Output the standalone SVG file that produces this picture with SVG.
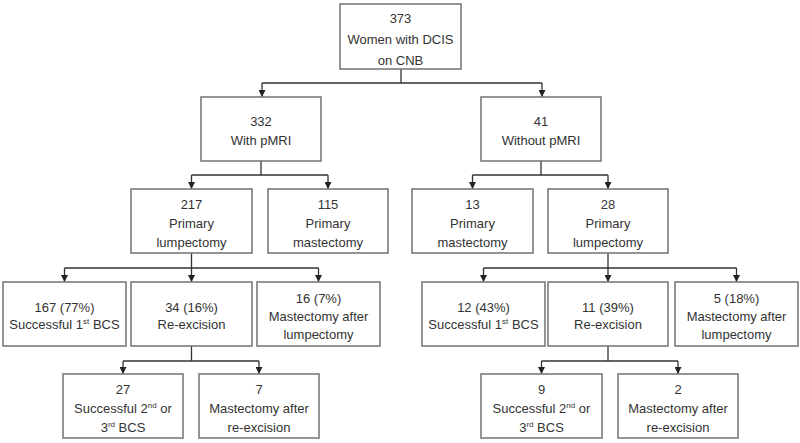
<svg xmlns="http://www.w3.org/2000/svg" width="800" height="443" viewBox="0 0 800 443">
<defs>
<style>
.box{fill:#fff;stroke:#7a7a7a;stroke-width:1.6}
.ln{fill:none;stroke:#333;stroke-width:1.3}
text{font-family:"Liberation Sans",Arial,sans-serif;font-size:13px;fill:#333;text-anchor:middle}
.sup{font-size:8px}
</style>
<marker id="ah" viewBox="0 0 8 8" refX="8" refY="4" markerWidth="7" markerHeight="7" markerUnits="userSpaceOnUse" orient="auto">
<path d="M0,0 L8,4 L0,8 z" fill="#222"/>
</marker>
</defs>
<rect width="800" height="443" fill="#fff"/>
<g id="connectors">
<path class="ln" d="M401,69 V83 M262,83 H542"/>
<path class="ln" d="M262,83 V97" marker-end="url(#ah)"/>
<path class="ln" d="M542,83 V97" marker-end="url(#ah)"/>
<path class="ln" d="M261,161 V175 M191.5,175 H328"/>
<path class="ln" d="M191.5,175 V189" marker-end="url(#ah)"/>
<path class="ln" d="M328,175 V189" marker-end="url(#ah)"/>
<path class="ln" d="M541,161 V175 M472.5,175 H608"/>
<path class="ln" d="M472.5,175 V189" marker-end="url(#ah)"/>
<path class="ln" d="M608,175 V189" marker-end="url(#ah)"/>
<path class="ln" d="M191.5,253 V268 M64.5,268 H318.5"/>
<path class="ln" d="M64.5,268 V282" marker-end="url(#ah)"/>
<path class="ln" d="M191.5,268 V282" marker-end="url(#ah)"/>
<path class="ln" d="M318.5,268 V282" marker-end="url(#ah)"/>
<path class="ln" d="M608,253 V268 M483.5,268 H736.5"/>
<path class="ln" d="M483.5,268 V282" marker-end="url(#ah)"/>
<path class="ln" d="M608,268 V282" marker-end="url(#ah)"/>
<path class="ln" d="M736.5,268 V282" marker-end="url(#ah)"/>
<path class="ln" d="M191.5,346 V361 M123,361 H259"/>
<path class="ln" d="M123,361 V374" marker-end="url(#ah)"/>
<path class="ln" d="M259,361 V374" marker-end="url(#ah)"/>
<path class="ln" d="M608,346 V361 M541.5,361 H678"/>
<path class="ln" d="M541.5,361 V374" marker-end="url(#ah)"/>
<path class="ln" d="M678,361 V374" marker-end="url(#ah)"/>
</g>
<g id="n373">
<rect class="box" x="340" y="4" width="121" height="65"/>
<text x="400.5" y="23">373</text>
<text x="400.5" y="44">Women with DCIS</text>
<text x="400.5" y="65">on CNB</text>
</g>
<g id="n332">
<rect class="box" x="201" y="97" width="120" height="64"/>
<text x="261" y="126">332</text>
<text x="261" y="145">With pMRI</text>
</g>
<g id="n41">
<rect class="box" x="481" y="97" width="120" height="64"/>
<text x="541" y="126">41</text>
<text x="541" y="145">Without pMRI</text>
</g>
<g id="n217">
<rect class="box" x="131" y="189" width="121" height="64"/>
<text x="191.5" y="209">217</text>
<text x="191.5" y="228">Primary</text>
<text x="191.5" y="247">lumpectomy</text>
</g>
<g id="n115">
<rect class="box" x="268" y="189" width="120" height="64"/>
<text x="328" y="209">115</text>
<text x="328" y="228">Primary</text>
<text x="328" y="247">mastectomy</text>
</g>
<g id="n13">
<rect class="box" x="412" y="189" width="121" height="64"/>
<text x="472.5" y="209">13</text>
<text x="472.5" y="228">Primary</text>
<text x="472.5" y="247">mastectomy</text>
</g>
<g id="n28">
<rect class="box" x="548" y="189" width="120" height="64"/>
<text x="608" y="209">28</text>
<text x="608" y="228">Primary</text>
<text x="608" y="247">lumpectomy</text>
</g>
<g id="n167">
<rect class="box" x="3" y="282" width="123" height="64"/>
<text x="64.5" y="312">167 (77%)</text>
<text x="64.5" y="329">Successful 1<tspan class="sup" dy="-5">st</tspan><tspan dy="5"> BCS</tspan></text>
</g>
<g id="n34">
<rect class="box" x="131" y="282" width="121" height="64"/>
<text x="191.5" y="312">34 (16%)</text>
<text x="191.5" y="329">Re-excision</text>
</g>
<g id="n16">
<rect class="box" x="257" y="282" width="123" height="64"/>
<text x="318.5" y="303">16 (7%)</text>
<text x="318.5" y="321">Mastectomy after</text>
<text x="318.5" y="339">lumpectomy</text>
</g>
<g id="n12">
<rect class="box" x="422" y="282" width="123" height="64"/>
<text x="483.5" y="312">12 (43%)</text>
<text x="483.5" y="329">Successful 1<tspan class="sup" dy="-5">st</tspan><tspan dy="5"> BCS</tspan></text>
</g>
<g id="n11">
<rect class="box" x="548" y="282" width="120" height="64"/>
<text x="608" y="312">11 (39%)</text>
<text x="608" y="329">Re-excision</text>
</g>
<g id="n5">
<rect class="box" x="675" y="282" width="123" height="64"/>
<text x="736.5" y="303">5 (18%)</text>
<text x="736.5" y="321">Mastectomy after</text>
<text x="736.5" y="339">lumpectomy</text>
</g>
<g id="n27">
<rect class="box" x="63" y="374" width="120" height="64"/>
<text x="123" y="394">27</text>
<text x="123" y="413">Successful 2<tspan class="sup" dy="-5">nd</tspan><tspan dy="5"> or</tspan></text>
<text x="123" y="432">3<tspan class="sup" dy="-5">rd</tspan><tspan dy="5"> BCS</tspan></text>
</g>
<g id="n7">
<rect class="box" x="199" y="374" width="120" height="64"/>
<text x="259" y="394">7</text>
<text x="259" y="413">Mastectomy after</text>
<text x="259" y="432">re-excision</text>
</g>
<g id="n9">
<rect class="box" x="481" y="374" width="121" height="64"/>
<text x="541.5" y="394">9</text>
<text x="541.5" y="413">Successful 2<tspan class="sup" dy="-5">nd</tspan><tspan dy="5"> or</tspan></text>
<text x="541.5" y="432">3<tspan class="sup" dy="-5">rd</tspan><tspan dy="5"> BCS</tspan></text>
</g>
<g id="n2">
<rect class="box" x="618" y="374" width="120" height="64"/>
<text x="678" y="394">2</text>
<text x="678" y="413">Mastectomy after</text>
<text x="678" y="432">re-excision</text>
</g>
</svg>
